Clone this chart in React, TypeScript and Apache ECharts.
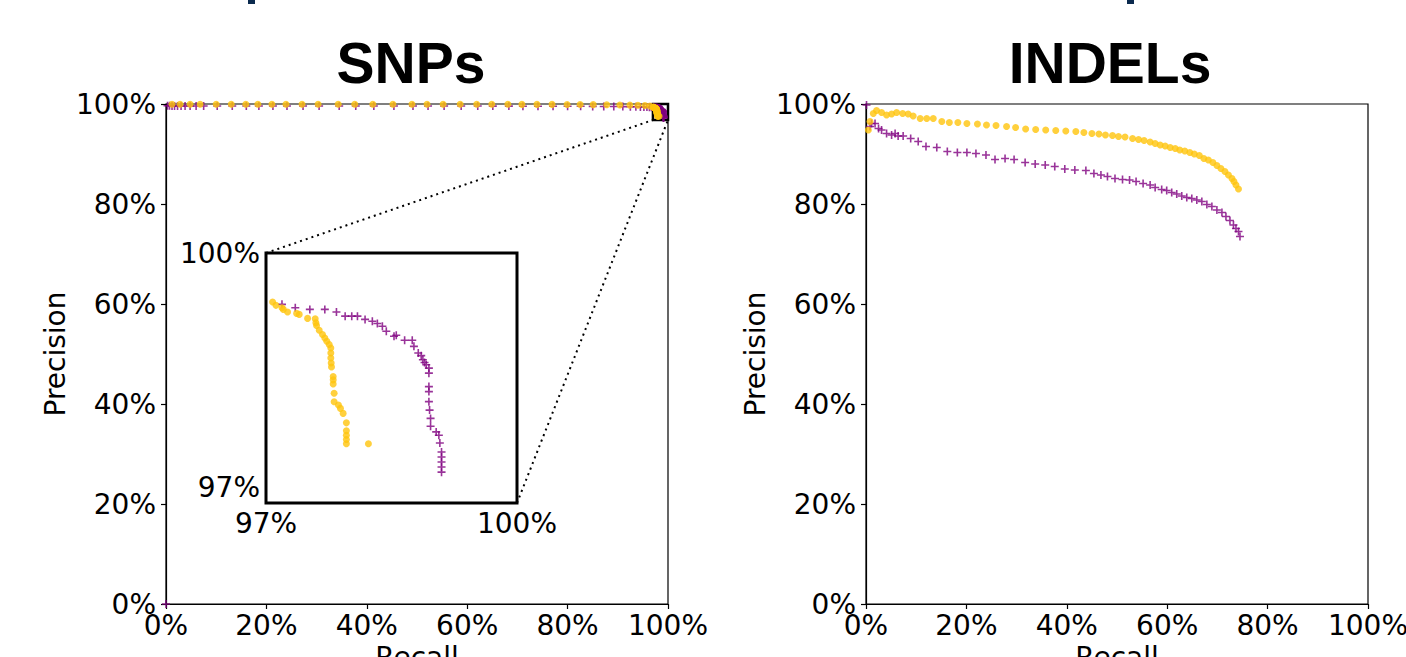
import React, { useEffect, useRef } from "react";
import * as echarts from "echarts";

// ---------- data (recall %, precision %) ----------
const snpYellowRecall = [1.2, 2.8, 4.8, 6.8, 10.0, 13.0, 15.9, 18.3, 21.1, 23.9, 27.1, 30.3, 34.3, 37.6, 41.2, 45.2, 49.0, 52.0, 55.2, 58.6, 61.9, 64.9, 68.1, 70.9, 73.9, 76.9, 79.9, 82.5, 85.1, 87.8, 90.4, 92.4, 94.0, 95.4, 96.4,
  97.079, 97.119, 97.191, 97.207, 97.258, 97.366, 97.397, 97.497, 97.588, 97.596, 97.604, 97.636, 97.675, 97.703, 97.727, 97.755, 97.775, 97.775, 97.775, 97.779, 97.783, 97.803, 97.803, 97.803, 97.814, 97.814, 97.866, 97.890, 97.922, 97.961, 97.961, 97.961, 97.961, 97.961, 98.224];
const snpYellowPrecision = [99.95, 99.95, 99.95, 99.95, 99.95, 99.95, 99.95, 99.95, 99.95, 99.95, 99.95, 99.95, 99.95, 99.95, 99.95, 99.95, 99.95, 99.95, 99.95, 99.95, 99.95, 99.95, 99.95, 99.92, 99.92, 99.92, 99.9, 99.9, 99.88, 99.85, 99.8, 99.78, 99.75, 99.7, 99.6,
  99.373, 99.330, 99.300, 99.278, 99.244, 99.227, 99.214, 99.163, 99.158, 99.106, 99.072, 99.012, 98.956, 98.913, 98.870, 98.828, 98.784, 98.720, 98.655, 98.591, 98.540, 98.419, 98.376, 98.324, 98.205, 98.097, 98.054, 98.011, 97.947, 97.826, 97.724, 97.667, 97.612, 97.559, 97.559];

const snpPurpleRecall = [0.0, 0.3, 0.7, 1.2, 1.7, 2.3, 3.0, 3.8, 4.8, 6.0, 7.5, 10.2, 13.2, 16.0, 18.5, 21.3, 24.1, 27.3, 30.5, 34.5, 37.8, 41.4, 45.4, 49.2, 52.2, 55.4, 58.8, 62.1, 65.1, 68.3, 71.1, 74.1, 77.1, 80.0, 82.6, 85.0, 87.2, 89.2, 91.0, 92.5, 93.6, 94.5, 95.2, 95.8, 96.3, 96.7,
  97.191, 97.350, 97.524, 97.703, 97.842, 97.946, 98.025, 98.093, 98.184, 98.271, 98.331, 98.391, 98.438, 98.530, 98.557, 98.657, 98.748, 98.768, 98.820, 98.855, 98.875, 98.895, 98.915, 98.947, 98.947, 98.947, 98.947, 98.947, 98.955, 98.967, 98.967, 99.034, 99.066, 99.078, 99.098, 99.098, 99.098, 99.098, 99.098];
const snpPurplePrecision = [0.0, 99.65, 99.65, 99.62, 99.62, 99.6, 99.6, 99.6, 99.6, 99.6, 99.6, 99.6, 99.6, 99.6, 99.6, 99.6, 99.6, 99.6, 99.6, 99.6, 99.6, 99.6, 99.6, 99.6, 99.6, 99.6, 99.6, 99.6, 99.58, 99.58, 99.56, 99.56, 99.55, 99.55, 99.55, 99.52, 99.5, 99.5, 99.48, 99.46, 99.44, 99.42, 99.4, 99.38, 99.36, 99.35,
  99.343, 99.300, 99.278, 99.278, 99.244, 99.192, 99.192, 99.192, 99.150, 99.127, 99.098, 99.063, 98.999, 98.934, 98.947, 98.883, 98.883, 98.805, 98.720, 98.686, 98.634, 98.599, 98.570, 98.527, 98.462, 98.290, 98.226, 98.097, 97.989, 97.883, 97.783, 97.710, 97.667, 97.568, 97.453, 97.388, 97.324, 97.260, 97.195];

const indelYellowRecall = [0.47, 0.8, 1.46, 2.1, 3.1, 4.1, 5.1, 6.1, 7.3, 8.4, 9.4, 10.8, 12.1, 13.4, 15.1, 16.6, 18.3, 20.1, 22.2, 24.0, 25.9, 28.0, 29.8, 31.8, 33.8, 35.8, 37.8, 39.8, 41.8, 43.4, 45.0, 46.4, 47.7, 49.1, 50.3, 51.6, 53.1, 54.3, 55.4, 56.6, 57.6, 58.6, 59.6, 60.6, 61.6, 62.5, 63.5, 64.5, 65.4, 66.4, 67.3, 68.2, 69.1, 69.9, 70.7, 71.5, 72.2, 72.9, 73.3, 73.7, 74.2];
const indelYellowPrecision = [94.8, 96.5, 98.1, 98.7, 98.3, 97.8, 98.0, 98.3, 98.1, 98.0, 97.6, 97.1, 97.1, 97.1, 96.5, 96.3, 96.3, 96.1, 96.0, 95.8, 95.7, 95.5, 95.3, 95.0, 94.9, 94.8, 94.7, 94.6, 94.5, 94.3, 94.1, 94.0, 93.8, 93.7, 93.5, 93.4, 93.1, 92.9, 92.7, 92.4, 92.1, 91.8, 91.6, 91.3, 91.1, 90.8, 90.6, 90.3, 90.0, 89.7, 89.1, 88.8, 88.3, 87.7, 87.1, 86.5, 85.8, 85.1, 84.5, 83.8, 83.0];

const indelPurpleRecall = [0.1, 0.8, 1.1, 1.8, 2.5, 3.1, 4.1, 5.1, 5.8, 6.4, 7.4, 8.9, 10.4, 11.95, 14.1, 16.2, 18.2, 20.1, 21.9, 23.9, 25.7, 27.7, 29.5, 31.7, 33.7, 35.7, 37.6, 39.6, 41.6, 43.8, 45.4, 46.8, 48.1, 49.6, 51.1, 52.5, 53.8, 55.2, 56.6, 57.6, 58.9, 59.9, 60.9, 61.9, 62.9, 63.9, 64.9, 65.9, 66.9, 67.9, 68.9, 69.9, 70.9, 71.7, 72.5, 73.2, 73.7, 74.2, 74.5];
const indelPurplePrecision = [99.8, 95.5, 96.1, 96.1, 95.1, 94.8, 94.1, 93.8, 94.1, 93.6, 93.6, 93.1, 92.5, 91.5, 91.3, 90.5, 90.3, 90.3, 90.1, 89.8, 88.9, 89.1, 88.9, 88.3, 88.0, 87.8, 87.5, 87.0, 86.8, 86.7, 86.1, 85.8, 85.5, 85.1, 84.9, 84.8, 84.5, 84.1, 83.8, 83.3, 82.9, 82.7, 82.3, 82.0, 81.6, 81.3, 81.1, 80.8, 80.5, 79.9, 79.5, 78.8, 78.3, 77.5, 76.7, 75.8, 75.1, 74.5, 73.5];

const mainTicks = [0, 20, 40, 60, 80, 100];
const insetTicks = [97, 100];
const insetXRange = [97, 100];
const insetYRange = [96.8, 100];
const panelTitles = ["SNPs", "INDELs"];

const YELLOW = "#FFC40C";
const PURPLE = "#800080";
const FONT = "DejaVu Sans";
const PLUS = "path://M4,0H6V4H10V6H6V10H4V6H0V4H4Z";

const zip = (xs: number[], ys: number[]) => xs.map((x, i) => [x, ys[i]]);

export default function App() {
  const ref = useRef<HTMLDivElement>(null);
  useEffect(() => {
    if (!ref.current) return;
    const chart = echarts.init(ref.current, undefined, { renderer: "svg" });

    const mainX = (gridIndex: number) => ({
      gridIndex, type: "value", min: mainTicks[0], max: mainTicks[mainTicks.length - 1], interval: 20,
      axisLine: { show: true, onZero: false, lineStyle: { color: "#000", width: 1.2 } },
      axisTick: { show: true, length: 5, lineStyle: { color: "#000", width: 1.2 } },
      axisLabel: { formatter: "{value}%", fontSize: 28, color: "#000", fontFamily: FONT, margin: 7 },
      splitLine: { show: false },
      name: "Recall", nameLocation: "middle", nameGap: 38,
      nameTextStyle: { fontSize: 28, color: "#000", fontFamily: FONT },
    });
    const mainY = (gridIndex: number) => ({
      gridIndex, type: "value", min: mainTicks[0], max: mainTicks[mainTicks.length - 1], interval: 20,
      axisLine: { show: true, onZero: false, lineStyle: { color: "#000", width: 1.2 } },
      axisTick: { show: true, length: 5, lineStyle: { color: "#000", width: 1.2 } },
      axisLabel: { formatter: "{value}%", fontSize: 28, color: "#000", fontFamily: FONT, margin: 10 },
      splitLine: { show: false },
      name: "Precision", nameLocation: "middle", nameGap: 97,
      nameTextStyle: { fontSize: 28, color: "#000", fontFamily: FONT },
    });

    const yellowStyle = { symbol: "circle", symbolSize: 7, itemStyle: { color: YELLOW } };
    const purpleStyle = { symbol: PLUS, symbolSize: 8, itemStyle: { color: PURPLE } };

    chart.setOption({
      animation: false,
      backgroundColor: "#fff",
      grid: [
        { left: 166, top: 104, width: 502, height: 500, outerBoundsMode: "none", containLabel: false, show: true, borderColor: "#000", borderWidth: 1.2, backgroundColor: "transparent" },
        { left: 266, top: 253, width: 251, height: 250, outerBoundsMode: "none", containLabel: false, show: true, borderColor: "#000", borderWidth: 3, backgroundColor: "#fff", z: 5 },
        { left: 866, top: 104, width: 502, height: 500, outerBoundsMode: "none", containLabel: false, show: true, borderColor: "#000", borderWidth: 1.2, backgroundColor: "transparent" },
      ],
      xAxis: [
        mainX(0),
        {
          gridIndex: 1, type: "value", min: insetXRange[0], max: insetXRange[1],
          axisLine: { show: false }, axisTick: { show: false }, splitLine: { show: false },
          axisLabel: { customValues: insetTicks, formatter: (v: number) => Math.round(v) + "%", fontSize: 28, color: "#000", fontFamily: FONT, margin: 6 },
        },
        mainX(2),
      ],
      yAxis: [
        mainY(0),
        {
          gridIndex: 1, type: "value", min: insetYRange[0], max: insetYRange[1],
          axisLine: { show: false }, axisTick: { show: false }, splitLine: { show: false },
          axisLabel: { customValues: insetTicks, formatter: (v: number) => Math.round(v) + "%", fontSize: 28, color: "#000", fontFamily: FONT, margin: 6 },
        },
        mainY(2),
      ],
      series: [
        { type: "scatter", xAxisIndex: 0, yAxisIndex: 0, data: zip(snpPurpleRecall, snpPurplePrecision), ...purpleStyle, clip: true },
        {
          type: "scatter", xAxisIndex: 0, yAxisIndex: 0, data: zip(snpYellowRecall, snpYellowPrecision), ...yellowStyle, clip: true,
          markArea: {
            silent: true,
            itemStyle: { color: "rgba(0,0,0,0)", borderColor: "#000", borderWidth: 2.5 },
            data: [[{ coord: [insetXRange[0], insetYRange[0]] }, { coord: [insetXRange[1], insetYRange[1]] }]],
          },
        },
        { type: "scatter", xAxisIndex: 1, yAxisIndex: 1, data: zip(snpPurpleRecall, snpPurplePrecision), ...purpleStyle, clip: true, z: 6 },
        { type: "scatter", xAxisIndex: 1, yAxisIndex: 1, data: zip(snpYellowRecall, snpYellowPrecision), ...yellowStyle, clip: true, z: 6 },
        { type: "scatter", xAxisIndex: 2, yAxisIndex: 2, data: zip(indelPurpleRecall, indelPurplePrecision), ...purpleStyle, clip: true },
        { type: "scatter", xAxisIndex: 2, yAxisIndex: 2, data: zip(indelYellowRecall, indelYellowPrecision), ...yellowStyle, clip: true },
      ],
    });

    const a = chart.convertToPixel({ seriesIndex: 2 }, [insetXRange[0], insetYRange[1]]) as number[];
    const b = chart.convertToPixel({ seriesIndex: 1 }, [insetXRange[0], insetYRange[0]]) as number[];
    const c = chart.convertToPixel({ seriesIndex: 2 }, [insetXRange[1], insetYRange[0]]) as number[];
    const d = chart.convertToPixel({ seriesIndex: 1 }, [insetXRange[1], insetYRange[0]]) as number[];
    const dotted = { stroke: "#000", lineWidth: 2, lineDash: [2, 4] };

    chart.setOption({
      graphic: [
        { type: "line", z: 1, shape: { x1: a[0], y1: a[1], x2: b[0], y2: b[1] }, style: dotted, silent: true },
        { type: "line", z: 1, shape: { x1: c[0], y1: c[1], x2: d[0], y2: d[1] }, style: dotted, silent: true },
        { type: "text", x: 411, y: 63, style: { text: panelTitles[0], fontSize: 57, fontWeight: "bold", fontFamily: "Liberation Sans", fill: "#000", align: "center", verticalAlign: "middle" } },
        { type: "text", x: 1110, y: 63, style: { text: panelTitles[1], fontSize: 57, fontWeight: "bold", fontFamily: "Liberation Sans", fill: "#000", align: "center", verticalAlign: "middle" } },
        { type: "rect", shape: { x: 248, y: 0, width: 7, height: 4 }, style: { fill: "#0B2A4E" } },
        { type: "rect", shape: { x: 1127, y: 0, width: 7, height: 4 }, style: { fill: "#0B2A4E" } },
      ],
    });

    return () => chart.dispose();
  }, []);

  return <div ref={ref} style={{ position: "fixed", left: 0, top: 0, width: 1406, height: 657 }} />;
}
